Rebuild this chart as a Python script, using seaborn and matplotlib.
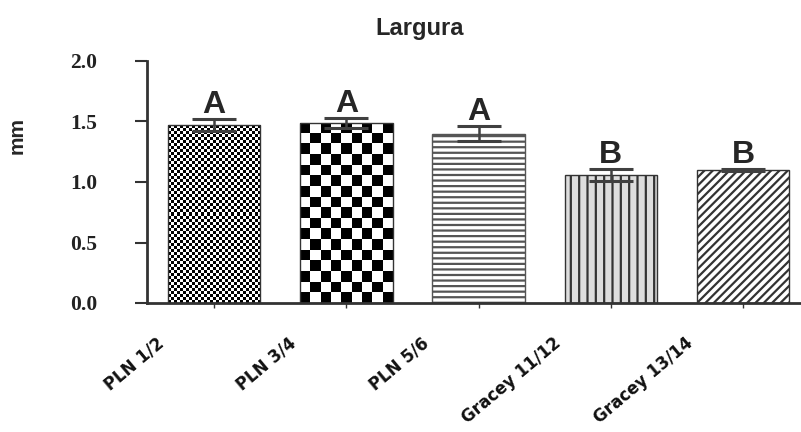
import numpy as np
import pandas as pd
import matplotlib
matplotlib.use("Agg")
import matplotlib.pyplot as plt
import matplotlib.transforms as mtransforms
import seaborn as sns

groups = ["PLN 1/2", "PLN 3/4", "PLN 5/6", "Gracey 11/12", "Gracey 13/14"]
means = [1.47, 1.49, 1.40, 1.06, 1.10]
sems = [0.05, 0.04, 0.06, 0.05, 0.01]
letters = ["A", "A", "A", "B", "B"]
yticks = [0.0, 0.5, 1.0, 1.5, 2.0]

df = pd.DataFrame({"grupo": groups, "largura": means})

sns.set_style("ticks")
plt.rcParams["hatch.linewidth"] = 1.6
edge = "#333333"

fig = plt.figure(figsize=(8.01, 4.32), dpi=100)
ax = fig.add_axes([147 / 801, 1 - 303 / 432, 653 / 801, 242 / 432])

sns.barplot(ax=ax, data=df, x="grupo", y="largura", width=0.70,
            errorbar=None, color="white", edgecolor=edge, linewidth=1.0)

# textures: fine / coarse checkerboard, horizontal, vertical, diagonal
bars = ax.patches
cells = [(31, 59), (9, 17)]
for bar, (nx, ny) in zip(bars[:2], cells):
    x0, w, h = bar.get_x(), bar.get_width(), bar.get_height()
    chk = (np.add.outer(np.arange(ny), np.arange(nx)) % 2).astype(float)
    im = ax.imshow(chk, cmap="gray", extent=(x0, x0 + w, 0, h), aspect="auto",
                   interpolation="nearest", zorder=0.5, origin="lower")
    im.set_clip_path(bar)
    bar.set_facecolor("none")
bars[2].set_hatch("---")
bars[2].set_edgecolor("#555555")
bars[3].set_hatch("||")
bars[3].set_facecolor("#dddddd")
bars[4].set_hatch("////")
for b in bars:
    b.set_zorder(1)

pos = np.arange(len(groups))
ax.errorbar(pos, means, yerr=sems, fmt="none", ecolor="#404040",
            elinewidth=1.8, capsize=16, capthick=2.2, zorder=3)

for p, m, s, lt in zip(pos, means, sems, letters):
    ax.text(p, m + s + 0.05, lt, ha="center", va="baseline",
            fontsize=23, fontweight="bold", family="Liberation Sans")

ax.set_xlim(-0.507, 4.43)
ax.set_ylim(0, 2.0)
ax.set_yticks(yticks)
ax.set_yticklabels([f"{v:.1f}" for v in yticks], family="Liberation Serif",
                   fontweight="bold", fontsize=15.5)
ax.tick_params(axis="y", length=8.6, width=1.5, pad=27, colors="#333333",
               labelcolor="#222222")
ax.tick_params(axis="x", length=3.5, width=1.0, colors="#333333")

ax.set_xticks(pos)
ax.set_xticklabels(groups, rotation=40, ha="right", va="top",
                   rotation_mode="anchor", family="DejaVu Sans",
                   fontweight="bold", fontsize=12, color="#111111")
shift = mtransforms.ScaledTranslation(-58 / 100, -21 / 100, fig.dpi_scale_trans)
for lab in ax.get_xticklabels():
    lab.set_transform(lab.get_transform() + shift)

ax.set_xlabel("")
ax.set_ylabel("mm", fontsize=15, fontweight="bold", family="Liberation Sans")
ax.yaxis.set_label_coords(-0.185, 0.694)
ax.set_title("Largura", fontsize=17, fontweight="bold", family="Liberation Sans",
             x=0.418, y=1.107, pad=0)

sns.despine(ax=ax)
for side in ["left", "bottom"]:
    ax.spines[side].set_linewidth(2.0)
    ax.spines[side].set_color("#333333")

fig.savefig("out.png", dpi=100)
